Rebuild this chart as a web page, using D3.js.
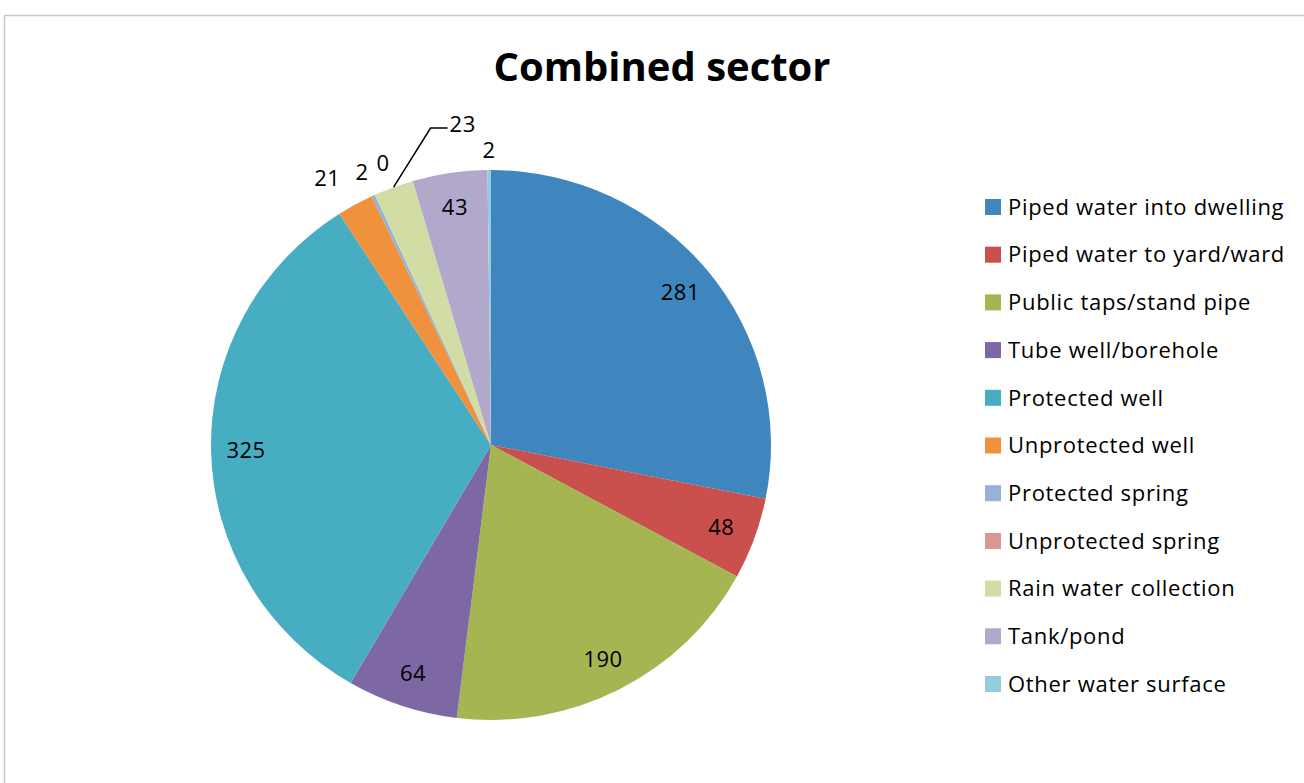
<!DOCTYPE html>
<html><head><meta charset="utf-8">
<script src="https://cdn.jsdelivr.net/npm/d3@7"></script>
<style>
html,body{margin:0;padding:0;background:#fff;}
text{font-family:"Open Sans",sans-serif;fill:#000;}
</style></head>
<body><svg id="c" width="1304" height="783"></svg>
<script>
const categories = ["Piped water into dwelling","Piped water to yard/ward","Public taps/stand pipe","Tube well/borehole","Protected well","Unprotected well","Protected spring","Unprotected spring","Rain water collection","Tank/pond","Other water surface"];
const values = [281,48,190,64,325,21,2,0,23,43,2];
const colors = ["#3F85BE","#C9504D","#A5B552","#7E68A4","#47ADC2","#EF913D","#95B3D7","#DA9694","#D2DDA6","#B2A8CC","#93CDDD"];
// label placement: "in" inside, "out" outside, "leader" with leader line
const labelMode = ["in","in","in","in","in","out","out","out","leader","in","out"];

const svg = d3.select("#c");
svg.append("path").attr("d","M4.5,783 V15.5 H1304").attr("fill","none").attr("stroke","#c8c8c8").attr("stroke-width",1.5);

svg.append("text").attr("x",662).attr("y",81).attr("text-anchor","middle")
  .style("font-size","40px").style("font-weight","bold").text("Combined sector");

const cx=491, cy=445, R=280, sy=0.982;
const g = svg.append("g").attr("transform",`translate(${cx},${cy}) scale(1,${sy})`);
const pie = d3.pie().sort(null).value(d=>d);
const arcs = pie(values);
const arc = d3.arc().innerRadius(0).outerRadius(R);
g.selectAll("path.s").data(arcs).enter().append("path").attr("class","s")
  .attr("d",arc).attr("fill",(d,i)=>colors[i]);

const lg = svg.append("g").attr("transform",`translate(${cx},${cy})`);
function pos(d,f){const a=(d.startAngle+d.endAngle)/2; return [Math.sin(a)*R*f, -Math.cos(a)*R*f*sy];}
const outF = {5:1.11,6:1.095,7:1.127,10:1.073};
const outDx = {5:-13,6:0,7:23,10:0};
const fs = "22px", ls = "0.5px";
arcs.forEach((d,i)=>{
  let p, t=String(values[i]);
  if(labelMode[i]==="in"){ p=pos(d,0.875);
    lg.append("text").attr("x",p[0]).attr("y",p[1]).attr("dy","0.35em").attr("text-anchor","middle").style("font-size",fs).style("letter-spacing",ls).text(t);
  } else if(labelMode[i]==="out"){ p=pos(d,outF[i]);
    lg.append("text").attr("x",p[0]+outDx[i]).attr("y",p[1]).attr("dy","0.35em").attr("text-anchor","middle").style("font-size",fs).style("letter-spacing",ls).text(t);
  } else {
    const e=pos(d,1.0);
    const mx=e[0]+37, my=-317;
    lg.append("path").attr("d",`M${e[0]},${e[1]} L${mx},${my} L${mx+17},${my}`).attr("fill","none").attr("stroke","#000").attr("stroke-width",1.5);
    lg.append("text").attr("x",mx+19).attr("y",my-4).attr("dy","0.35em").style("font-size",fs).style("letter-spacing",ls).text(t);
  }
});

const leg = svg.append("g");
const ly = d3.scalePoint().domain(categories).range([207,684]);
categories.forEach((c,i)=>{
  leg.append("rect").attr("x",985).attr("y",ly(c)-8).attr("width",16).attr("height",16).attr("fill",colors[i]);
  leg.append("text").attr("x",1008).attr("y",ly(c)).attr("dy","0.35em").style("font-size","22px").style("letter-spacing","0.7px").text(c);
});
</script></body></html>
